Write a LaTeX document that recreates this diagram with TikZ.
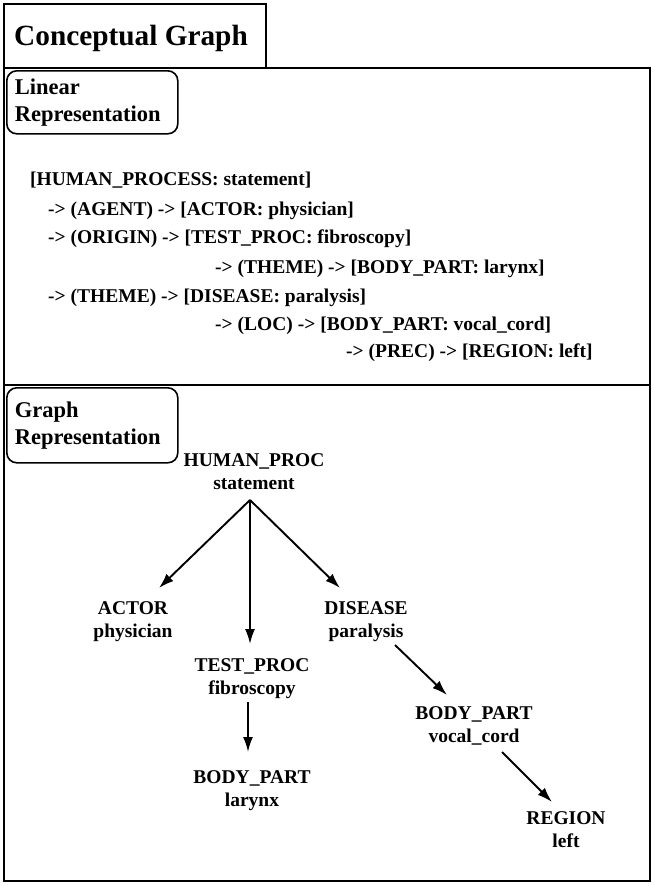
\documentclass[tikz,border=0pt]{standalone}
\usepackage{fontspec}
\setmainfont{Liberation Serif}
\usetikzlibrary{arrows.meta,calc}
\tikzset{
  frame/.style={line width=1.9pt, line cap=rect},
  lbox/.style={draw, line width=1.6pt, rounded corners=10pt, align=left,
    text width=155pt, inner xsep=8pt, inner ysep=0pt, minimum height=#1,
    anchor=north west, font=\fontsize{22.5}{27}\selectfont\bfseries},
  lin/.style={anchor=base west, inner sep=0pt, font=\fontsize{19.5}{22}\selectfont\bfseries},
  concept/.style={align=center, inner sep=0pt, font=\fontsize{19.5}{22.5}\selectfont\bfseries},
  rel/.style={line width=1.9pt, -{Latex[length=15pt,width=10pt]}},
}
\begin{document}
\begin{tikzpicture}[x=1pt,y=-1pt]
\useasboundingbox (0,0) rectangle (655,887);
\fill[white] (0,0) rectangle (655,887);
% frames
\draw[frame] (4,68) -- (4,4) -- (266,4) -- (266,68);
\draw[frame] (4,68) rectangle (650,881);
\draw[frame] (4,385) -- (650,385);
% title
\node[anchor=base west, inner sep=0pt, font=\fontsize{29.3}{34}\selectfont\bfseries] (title) at (14,45) {Conceptual Graph};
% section labels
\node[lbox=63pt] (linlab) at (6,70) {Linear\\Representation};
\node[lbox=75pt] (graphlab) at (6,387) {Graph\\Representation};
% linear representation
\node[lin] (l1) at (30,185) {[HUMAN\_PROCESS: statement]};
\node[lin] (l2) at (48,215) {-> (AGENT) -> [ACTOR: physician]};
\node[lin] (l3) at (48,243) {-> (ORIGIN) -> [TEST\_PROC: fibroscopy]};
\node[lin] (l4) at (215,273) {-> (THEME) -> [BODY\_PART: larynx]};
\node[lin] (l5) at (48,302) {-> (THEME) -> [DISEASE: paralysis]};
\node[lin] (l6) at (215,330) {-> (LOC) -> [BODY\_PART: vocal\_cord]};
\node[lin] (l7) at (346,357) {-> (PREC) -> [REGION: left]};
% graph representation (center = first baseline + 6.6)
\node[concept] (hp) at (254,473.6) {\strut HUMAN\_PROC\\\strut statement};
\node[concept] (actor) at (133,621.6) {\strut ACTOR\\\strut physician};
\node[concept] (test) at (252,678.6) {\strut TEST\_PROC\\\strut fibroscopy};
\node[concept] (disease) at (366,621.6) {\strut DISEASE\\\strut paralysis};
\node[concept] (larynx) at (252,790.6) {\strut BODY\_PART\\\strut larynx};
\node[concept] (vocal) at (474,726.6) {\strut BODY\_PART\\\strut vocal\_cord};
\node[concept] (region) at (566,831.6) {\strut REGION\\\strut left};
\coordinate (src) at ($(hp.center)+(-4,26.4)$);
\draw[rel] (src) -- ($(actor.center)+(26,-33.6)$);
\draw[rel] (src) -- ($(test.center)+(-2,-34.6)$);
\draw[rel] (src) -- ($(disease.center)+(-26,-33.6)$);
\draw[rel] ($(test.center)+(-4,23.4)$) -- ($(larynx.center)+(-4,-38.6)$);
\draw[rel] ($(disease.center)+(29,23.4)$) -- ($(vocal.center)+(-27,-31.6)$);
\draw[rel] ($(vocal.center)+(28,25.4)$) -- ($(region.center)+(-14,-29.6)$);
\end{tikzpicture}
\end{document}
